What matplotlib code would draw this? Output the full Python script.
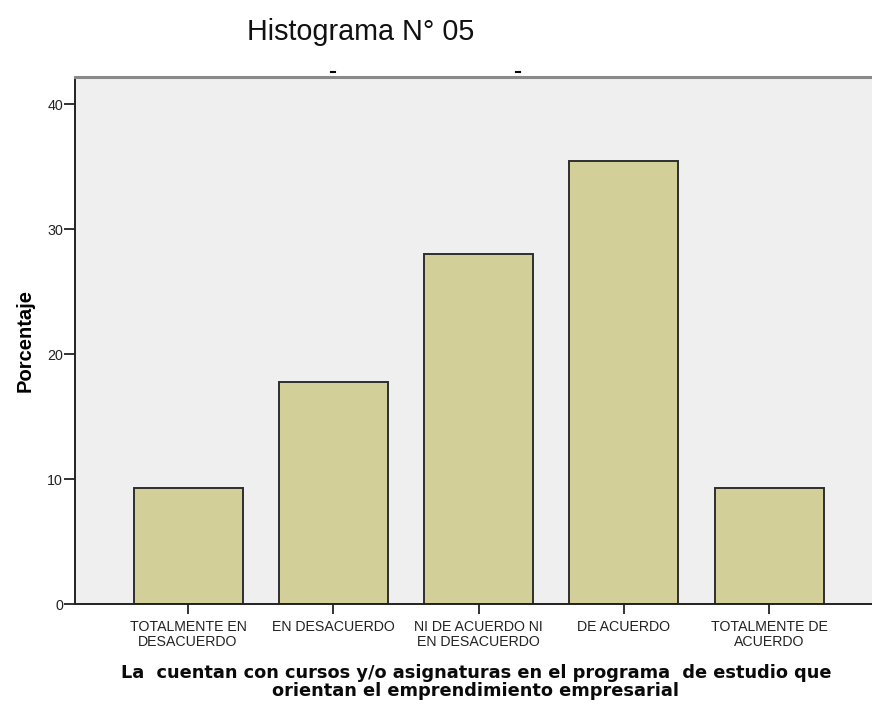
import matplotlib
matplotlib.use("Agg")
import matplotlib.pyplot as plt
from matplotlib.lines import Line2D

categories = ["TOTALMENTE EN\nDESACUERDO", "EN DESACUERDO", "NI DE ACUERDO NI\nEN DESACUERDO",
              "DE ACUERDO", "TOTALMENTE DE\nACUERDO"]
values = [9.3, 17.8, 28.0, 35.5, 9.3]
yticks = [0, 10, 20, 30, 40]
xlabel = "La  cuentan con cursos y/o asignaturas en el programa  de estudio que\norientan el emprendimiento empresarial"

W, H = 872, 706
fig = plt.figure(figsize=(W / 100, H / 100), dpi=100)
ax = fig.add_axes([75 / W, 102 / H, (W - 75) / W, (604 - 77) / H])
ax.set_facecolor("#efefef")

x = list(range(len(values)))
ax.bar(x, values, width=0.75, color="#d3cf98", edgecolor="#2e2e2e", linewidth=1.4, zorder=2)

ax.set_xlim(-0.778, 4.707)
ax.set_ylim(0, 42.2)
ax.set_yticks(yticks)
ax.set_yticklabels([str(v) for v in yticks], family="Liberation Sans", fontsize=10.3)
ax.set_xticks(x)
ax.set_xticklabels(categories, family="Liberation Sans", fontsize=10.2, linespacing=1.12)
ax.tick_params(axis="y", length=8, width=1.3, pad=0.5, colors="#222222")
ax.tick_params(axis="x", length=7.5, width=1.3, pad=4, colors="#222222")

for s in ["left", "bottom"]:
    ax.spines[s].set_color("#222222")
    ax.spines[s].set_linewidth(1.4)
ax.spines["right"].set_visible(False)
ax.spines["top"].set_color("#8a8a8a")
ax.spines["top"].set_linewidth(2.2)

ax.set_ylabel("Porcentaje", family="Liberation Sans", fontweight="bold", fontsize=14.5, labelpad=9)

fig.text(476 / W, 1 - 664 / H, xlabel, family="DejaVu Sans", fontweight="bold", fontsize=12.8,
         linespacing=0.98, ha="center", va="top", multialignment="center", color="#0a0a0a")

fig.text(361 / W, 1 - 32 / H, "Histograma N° 05", family="Liberation Sans", fontsize=20.7,
         ha="center", va="center", color="#111111")

for px in (333, 518):
    fig.add_artist(Line2D([(px - 2) / W, (px + 2) / W], [1 - 72 / H, 1 - 72 / H],
                          color="black", linewidth=1.5, transform=fig.transFigure))

fig.savefig("out.png", dpi=100)
